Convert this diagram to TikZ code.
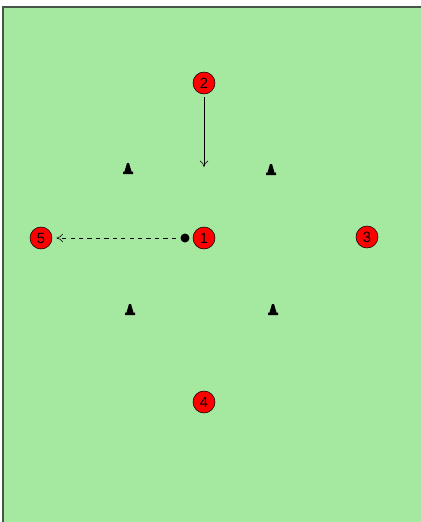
\documentclass[tikz,border=0pt]{standalone}
\usepackage{fontspec}
\setsansfont{Liberation Sans}
\usetikzlibrary{arrows.meta}
\definecolor{pitch}{RGB}{165,232,160}
\definecolor{pitchline}{RGB}{70,85,70}
\tikzset{
  player/.style={circle,draw=black,fill=red,minimum size=22*0.025cm,inner sep=0pt,font=\sffamily\fontsize{10.5}{10.5}\selectfont},
  ball/.style={circle,fill=black,minimum size=9*0.025cm,inner sep=0pt},
  pass/.style={-{To[length=4.5pt,width=6pt]},dashed,thin},
  run/.style={-{To[length=4.5pt,width=6pt]},thin}
}
\newcommand{\cone}[2]{%
  \fill (#1-5,#2+4) -- (#1+5,#2+4) -- (#1+5,#2+1.5) -- (#1+3.5,#2+1.5) -- (#1+1,#2-7) -- (#1-1,#2-7) -- (#1-3.5,#2+1.5) -- (#1-5,#2+1.5) -- cycle;}
\begin{document}
\begin{tikzpicture}[x=0.025cm,y=-0.025cm]
\useasboundingbox (0,0) rectangle (421,522);

% pitch
\fill[pitch] (3,7) rectangle (421,522);
\draw[pitchline,line width=1.2pt] (3,522) -- (3,7) -- (421,7);

% cones
\cone{128}{170}
\cone{271}{171}
\cone{130}{311}
\cone{273}{311}

% players
\node[player] (p2) at (204,83) {2};
\node[player] (p1) at (204,238) {1};
\node[player] (p5) at (41,238) {5};
\node[player] (p3) at (367,237) {3};
\node[player] (p4) at (204,402) {4};
\node[ball] (b) at (185,238) {};
\coordinate (p2end) at (204,167);

% movements
\draw[run,shorten <=2pt] (p2) -- (p2end);
\draw[pass,shorten <=3pt,shorten >=3pt] (b) -- (p5);
\end{tikzpicture}
\end{document}
